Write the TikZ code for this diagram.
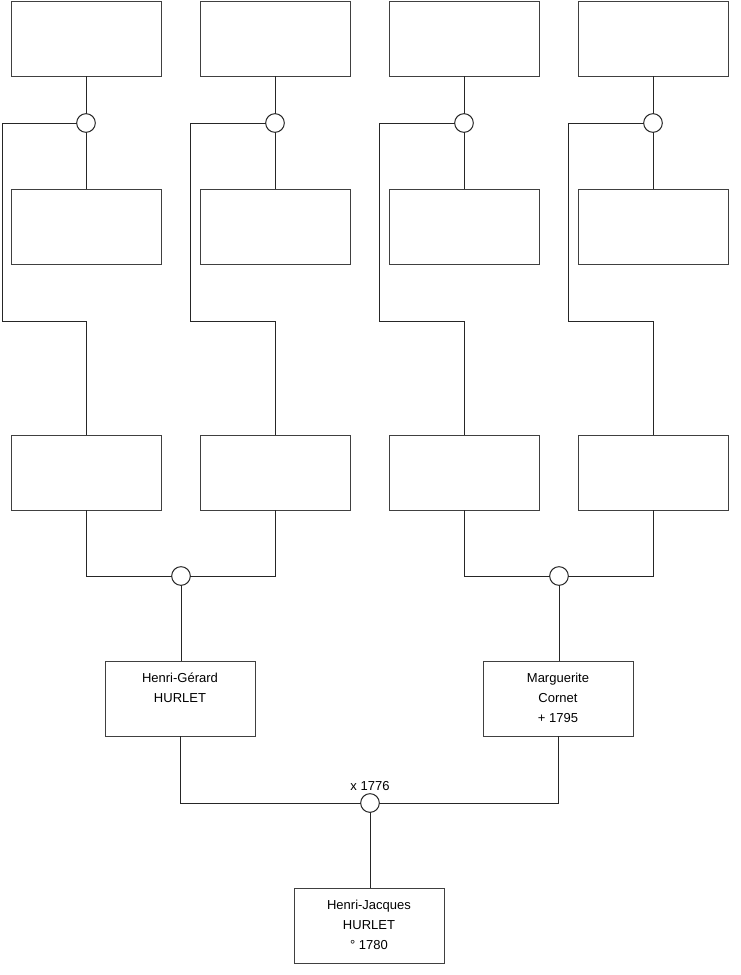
\documentclass[tikz,border=0pt]{standalone}
\usepackage{fontspec}
\setmainfont{Liberation Sans}
\begin{document}
\begin{tikzpicture}[x=0.75pt,y=-0.75pt,
  person/.style={draw=black!75, line width=0.75pt, minimum width=112.5pt, minimum height=56.25pt, inner sep=0pt, outer sep=0pt, anchor=north west, fill=white},
  couple/.style={circle, draw=black!85, line width=0.75pt, minimum size=14pt, inner sep=0pt, outer sep=0pt, fill=white},
  link/.style={draw=black!85, line width=0.75pt},
  txt/.style={align=center, inner sep=0pt, anchor=north, font=\fontsize{9.75}{15}\selectfont},
  lbl/.style={inner sep=0pt, font=\fontsize{9.75}{12}\selectfont}]
\useasboundingbox[fill=white] (0,0) rectangle (740,975);
% top row
\node[person] (t1) at (11,1) {};
\node[person] (t2) at (200,1) {};
\node[person] (t3) at (389,1) {};
\node[person] (t4) at (578,1) {};
% couples
\node[couple] (c1) at (86,123) {};
\node[couple] (c2) at (275,123) {};
\node[couple] (c3) at (464,123) {};
\node[couple] (c4) at (653,123) {};
% second row
\node[person] (m1) at (11,189) {};
\node[person] (m2) at (200,189) {};
\node[person] (m3) at (389,189) {};
\node[person] (m4) at (578,189) {};
% third row
\node[person] (b1) at (11,435) {};
\node[person] (b2) at (200,435) {};
\node[person] (b3) at (389,435) {};
\node[person] (b4) at (578,435) {};
% corner points
\coordinate (k1) at (2,321);
\coordinate (k2) at (190,321);
\coordinate (k3) at (379,321);
\coordinate (k4) at (568,321);
% lower couples
\node[couple] (d1) at (181,576) {};
\node[couple] (d2) at (559,576) {};
\node[person] (hg) at (105,661) {};
\node[person] (mc) at (483,661) {};
\node[couple] (e) at (370,803) {};
\node[person] (hj) at (294,888) {};
% connectors
\foreach \i in {1,2,3,4}{
  \draw[link] (c\i.north) -- (c\i |- t\i.south);
  \draw[link] (c\i.south) -- (c\i |- m\i.north);
  \draw[link] (c\i.west) -| (k\i) -| (b\i.north);
}
\draw[link] (b1.south) |- (d1.west);
\draw[link] (b2.south) |- (d1.east);
\draw[link] (b3.south) |- (d2.west);
\draw[link] (b4.south) |- (d2.east);
\draw[link] (d1.south) -- (d1 |- hg.north);
\draw[link] (d2.south) -- (d2 |- mc.north);
\draw[link] (hg.south) |- (e.west);
\draw[link] (mc.south) |- (e.east);
\draw[link] (e.south) -- (e |- hj.north);
% texts
\node[txt] (hgt) at ([yshift=-8.5pt]hg.north) {Henri-Gérard\\HURLET};
\node[txt] (mct) at ([yshift=-8.5pt]mc.north) {Marguerite\\Cornet\\+ 1795};
\node[txt] (hjt) at ([yshift=-8.5pt]hj.north) {Henri-Jacques\\HURLET\\° 1780};
\node[lbl] (el) at (370,786) {x 1776};
\end{tikzpicture}
\end{document}
